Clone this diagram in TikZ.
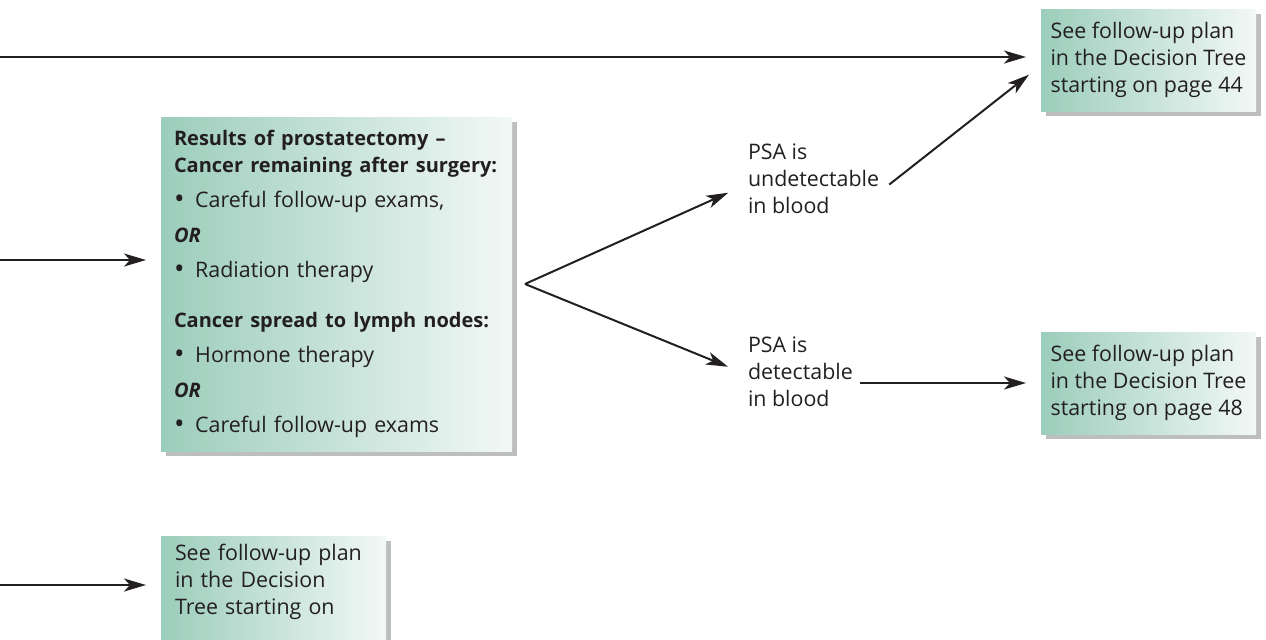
\documentclass[tikz,border=0pt]{standalone}
\usepackage{fontspec}
\setmainfont{Open Sans}
\usetikzlibrary{arrows.meta, shadows, positioning}
\definecolor{boxleft}{RGB}{156,205,187}
\definecolor{boxright}{RGB}{242,248,246}
\definecolor{ink}{RGB}{35,31,32}
\definecolor{shade}{RGB}{188,190,192}
\newcommand{\boldrow}[1]{{\fontsize{10}{13.5}\selectfont\bfseries #1}}
\newcommand{\dotitem}{\raisebox{-0.6pt}{\fontsize{14}{13.5}\selectfont•}\enspace}

\begin{document}
\begin{tikzpicture}[x=0.5pt,y=-0.5pt,-,>={Stealth[length=11pt,width=6.5pt,inset=3pt]},shorten >=7pt,
  line width=1pt,color=ink,font=\fontsize{10.7}{13.5}\selectfont,
  plan box/.style={anchor=north west,align=left,inner xsep=7pt,inner ysep=4pt,
    left color=boxleft,right color=boxright,
    drop shadow={shadow xshift=2.5pt,shadow yshift=-2.5pt,fill=shade,opacity=1}},
  text node/.style={anchor=west,align=left,inner sep=3pt}]

  \useasboundingbox (0,0) rectangle (1266,639);
  \clip (0,0) rectangle (1266,639);

  \node[plan box,inner xsep=4pt,minimum width=107.5pt,minimum height=51pt] (1) at (1040,8)
    {See follow-up plan\\in the Decision Tree\\starting on page 44};
  \node[plan box,text width=162.5pt,inner xsep=6.5pt,minimum height=167pt] (2) at (160,116)
    {\boldrow{Results of prostatectomy –}\\
     \boldrow{Cancer remaining after surgery:}\\[4pt]
     \dotitem Careful follow-up exams,\\[4pt]
     \boldrow{\itshape OR}\\[4pt]
     \dotitem Radiation therapy\\[11.5pt]
     \boldrow{Cancer spread to lymph nodes:}\\[4pt]
     \dotitem Hormone therapy\\[4pt]
     \boldrow{\itshape OR}\\[4pt]
     \dotitem Careful follow-up exams};
  \node[plan box,inner xsep=4pt,minimum width=107.5pt,minimum height=51pt] (3) at (1040,331)
    {See follow-up plan\\in the Decision Tree\\starting on page 48};
  \node[plan box,text width=98.5pt,text depth=60pt] (4) at (160,535)
    {See follow-up plan\\in the Decision\\Tree starting on};

  \node[text node] (5) at (741,179) {PSA is\\undetectable\\in blood};
  \node[text node] (6) at (741,372) {PSA is\\detectable\\in blood};

  \coordinate (7) at (525,284);
  \coordinate (8) at (0,57);
  \coordinate (9) at (0,260);
  \coordinate (10) at (0,585);

  \draw[->] (8) -- (8 -| 1.west);
  \draw[->] (9) -- (9 -| 2.west);
  \draw[->] (10) -- (10 -| 4.west);
  \draw[->] (7) -- ([yshift=-4pt]5.west);
  \draw[->] (7) -- (6.west);
  \draw[->,shorten <=2pt] ([yshift=-4pt]5.east) -- ([yshift=-3pt]1.west);
  \draw[->] (6.east |- 3.west) -- (3.west);
\end{tikzpicture}
\end{document}
